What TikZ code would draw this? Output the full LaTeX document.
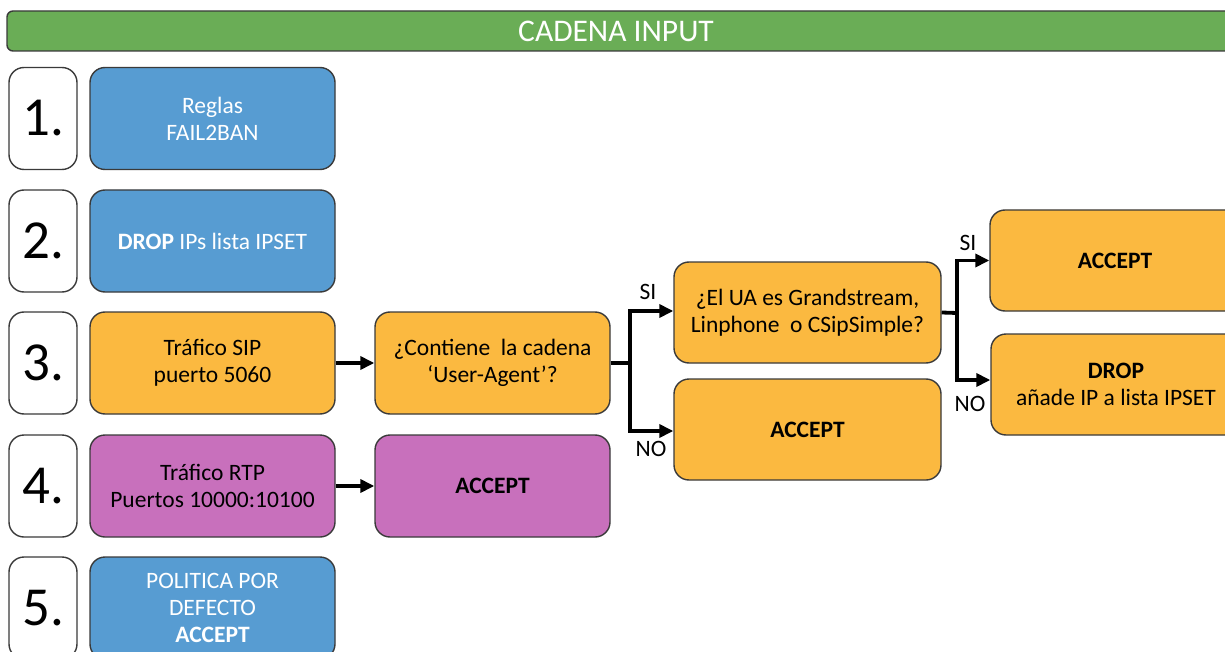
\documentclass[tikz,border=0pt]{standalone}
\usepackage{fontspec}
\setmainfont{Carlito}
\usetikzlibrary{arrows.meta}
\definecolor{hdrgreen}{HTML}{6AAD56}
\definecolor{boxblue}{HTML}{579CD2}
\definecolor{boxorange}{HTML}{FBB940}
\definecolor{boxpurple}{HTML}{C870BC}
\definecolor{edgegray}{HTML}{3A3A3A}
\tikzset{
  card/.style={draw=edgegray, line width=1.4, rounded corners=15, align=center,
    inner sep=0, font=\fontsize{23.5}{27}\selectfont},
  numcard/.style={card, fill=white, minimum width=68, minimum height=102,
    font=\fontsize{55}{55}\selectfont},
  rulecard/.style={card, minimum width=245, minimum height=102},
  bluecard/.style={rulecard, fill=boxblue, text=white},
  orangecard/.style={card, fill=boxorange},
  purplecard/.style={card, fill=boxpurple},
  flow/.style={line width=3.8, -{Triangle[length=14,width=13]}},
  trunk/.style={line width=3.8},
  branchlbl/.style={font=\fontsize{23.5}{27}\selectfont, inner sep=0}
}
\begin{document}
\begin{tikzpicture}[x=1pt,y=-1pt]
\useasboundingbox (0,0) rectangle (1225,652);
\clip (0,0) rectangle (1225,652);

% header bar
\node[draw=edgegray, line width=1.4, fill=hdrgreen, rounded corners=6,
  minimum width=1230, minimum height=40, inner sep=0] (hdr) at (622,31) {};
\node[text=white, font=\fontsize{31.5}{31.5}\selectfont, inner sep=0] (title) at (616,31) {CADENA INPUT};

% rule numbers
\node[numcard] (n1) at (43,118.5) {1.};
\node[numcard] (n2) at (43,241) {2.};
\node[numcard] (n3) at (43,363) {3.};
\node[numcard] (n4) at (43,486) {4.};
\node[numcard] (n5) at (43,608) {5.};

% first column of rules
\node[bluecard] (r1) at (212.5,118.5) {Reglas\\FAIL2BAN};
\node[bluecard] (r2) at (212.5,241) {\textbf{DROP} IPs lista IPSET};
\node[rulecard, fill=boxorange] (r3) at (212.5,363) {Tráfico SIP\\puerto 5060};
\node[rulecard, fill=boxpurple] (r4) at (212.5,486) {Tráfico RTP\\Puertos 10000:10100};
\node[bluecard] (r5) at (212.5,608) {POLITICA POR\\DEFECTO\\\textbf{ACCEPT}};

% second column
\node[orangecard, minimum width=235, minimum height=102] (q1) at (492.5,363)
  {¿Contiene\ \ la cadena\\‘User-Agent’?};
\node[purplecard, minimum width=235, minimum height=102] (a4) at (492.5,486) {\textbf{ACCEPT}};

% third column
\node[orangecard, minimum width=267, minimum height=101] (q2) at (807.5,312.5)
  {¿El UA es Grandstream,\\Linphone\ \ o CSipSimple?};
\node[orangecard, minimum width=267, minimum height=101] (a3) at (807.5,429.5) {\textbf{ACCEPT}};

% fourth column
\node[orangecard, minimum width=250, minimum height=101] (a5) at (1115,260.5) {\textbf{ACCEPT}};
\node[orangecard, minimum width=250, minimum height=101] (d5) at (1116,384.5)
  {\textbf{DROP}\\añade IP a lista IPSET};

% connectors
\draw[flow] (r3.east) -- (q1.west);
\draw[flow] (r4.east) -- (a4.west);

\coordinate (s1) at (630,363);
\draw[trunk] (q1.east) -- (s1);
\draw[flow] (s1) |- ([yshift=1.5]q2.west);
\draw[flow] (s1) |- ([yshift=-1.5]a3.west);

\coordinate (s2) at (957,313);
\draw[trunk] (q2.east) -- (s2);
\draw[flow] (s2) |- (a5.west);
\draw[flow] (s2) |- ([yshift=4.5]d5.west);

% branch labels
\node[branchlbl] (si1) at (648,292) {SI};
\node[branchlbl] (no1) at (651,449) {NO};
\node[branchlbl] (si2) at (968,243) {SI};
\node[branchlbl] (no2) at (970,404) {NO};
\end{tikzpicture}
\end{document}
